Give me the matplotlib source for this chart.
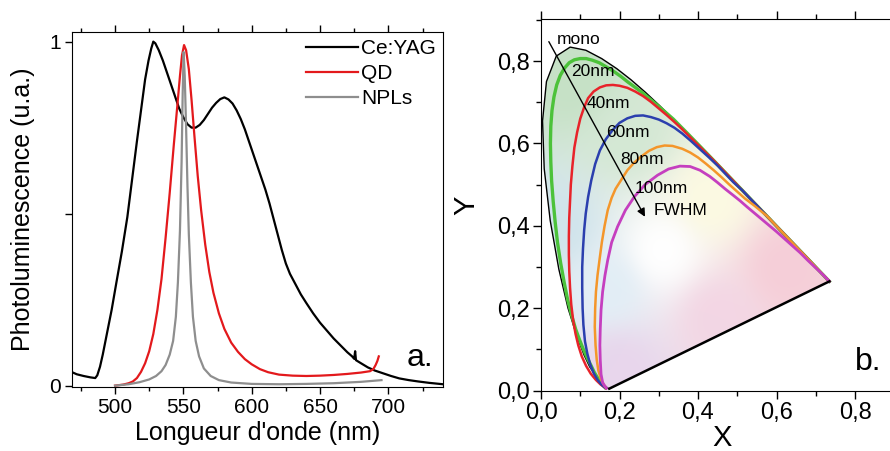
import numpy as np
import matplotlib
matplotlib.use("Agg")
import matplotlib.pyplot as plt
from matplotlib.patches import Polygon
from matplotlib.ticker import MultipleLocator

plt.rcParams['font.family'] = ['Liberation Sans', 'DejaVu Sans']

# -----------------------------
# (a) spectres de photoluminescence
# -----------------------------
cey_nm = [468, 472, 477, 482, 485.5, 487, 489, 491, 494, 497.5, 501, 505, 509, 512.5, 516,
          519, 522, 524.5, 526.5, 528, 529.5, 532, 535, 538, 541, 544, 547, 550, 553, 556,
          559, 562, 565, 568, 571, 574, 577, 580, 583, 586, 589, 592, 595, 598, 601, 604,
          607, 610, 613, 616, 619, 622, 625, 628, 632, 636, 640, 645, 650, 655, 660, 665,
          670, 673.5, 675, 675.7, 676.3, 680, 685, 690, 696, 702, 708, 715, 722, 730, 740]
cey_int = [0.04, 0.033, 0.028, 0.024, 0.022, 0.03, 0.055, 0.09, 0.15, 0.22, 0.30, 0.39,
           0.49, 0.60, 0.71, 0.80, 0.89, 0.945, 0.98, 1.0, 0.995, 0.975, 0.945, 0.91, 0.875,
           0.84, 0.805, 0.78, 0.76, 0.75, 0.75, 0.758, 0.772, 0.79, 0.808, 0.822, 0.833,
           0.838, 0.832, 0.82, 0.80, 0.775, 0.745, 0.71, 0.675, 0.64, 0.605, 0.57, 0.53,
           0.485, 0.44, 0.395, 0.355, 0.325, 0.295, 0.265, 0.24, 0.21, 0.183, 0.16, 0.137,
           0.117, 0.097, 0.085, 0.078, 0.10, 0.074, 0.065, 0.053, 0.044, 0.036, 0.028,
           0.021, 0.016, 0.012, 0.008, 0.004]

qd_nm = [500, 506, 510, 513, 516, 519, 522, 525, 528, 531, 534, 537, 540, 543, 545.5, 547.5,
         549, 550.5, 552, 554, 556, 558, 560.5, 563, 566, 569, 572, 576, 580, 585, 590, 595,
         600, 606, 612, 620, 630, 640, 650, 660, 670, 680, 686.6, 689, 690.7, 692, 693]
qd_int = [0.0, 0.003, 0.007, 0.012, 0.022, 0.04, 0.065, 0.10, 0.15, 0.22, 0.31, 0.43, 0.56,
          0.70, 0.81, 0.90, 0.96, 0.99, 0.975, 0.92, 0.83, 0.73, 0.61, 0.51, 0.41, 0.33,
          0.27, 0.21, 0.165, 0.125, 0.098, 0.077, 0.062, 0.048, 0.039, 0.032, 0.029, 0.028,
          0.029, 0.031, 0.034, 0.038, 0.042, 0.048, 0.06, 0.072, 0.085]

npl_nm = [500, 510, 518, 525, 530, 534, 537, 540, 542.5, 544.5, 546, 547.5, 548.7, 549.5,
          550.2, 551, 552, 553, 554, 555.5, 557, 559, 561.5, 565, 570, 576, 585, 600, 620,
          640, 660, 680, 695]
npl_int = [0.0, 0.004, 0.01, 0.018, 0.028, 0.042, 0.06, 0.09, 0.13, 0.20, 0.30, 0.45, 0.65,
           0.85, 0.97, 0.90, 0.75, 0.58, 0.44, 0.30, 0.20, 0.13, 0.085, 0.05, 0.028, 0.016,
           0.009, 0.005, 0.004, 0.005, 0.007, 0.011, 0.016]

# -----------------------------
# (b) diagramme CIE (x, y)
# -----------------------------
mono_x = [0.1741, 0.1714, 0.1644, 0.1566, 0.1440, 0.1241, 0.1096, 0.0913, 0.0687, 0.0454,
          0.0235, 0.0082, 0.0039, 0.0139, 0.0389, 0.0743, 0.1142, 0.1547, 0.1929, 0.2296,
          0.2658, 0.3016, 0.3373, 0.3731, 0.4087, 0.4441, 0.4788, 0.5125, 0.5448, 0.5752,
          0.6029, 0.6270, 0.6658, 0.6915, 0.7079, 0.7190, 0.7260, 0.7300, 0.7334, 0.7347]
mono_y = [0.0050, 0.0051, 0.0109, 0.0177, 0.0297, 0.0578, 0.0868, 0.1327, 0.2007, 0.2950,
          0.4127, 0.5384, 0.6548, 0.7502, 0.8120, 0.8338, 0.8262, 0.8059, 0.7816, 0.7543,
          0.7243, 0.6923, 0.6589, 0.6245, 0.5896, 0.5547, 0.5202, 0.4866, 0.4544, 0.4242,
          0.3965, 0.3725, 0.3340, 0.3083, 0.2920, 0.2809, 0.2740, 0.2700, 0.2666, 0.2653]

fw20_x = [0.163, 0.154, 0.145, 0.136, 0.128, 0.118, 0.108, 0.098, 0.088, 0.078, 0.068, 0.059,
          0.05, 0.042, 0.036, 0.031, 0.027, 0.025, 0.024, 0.025, 0.028, 0.033, 0.04, 0.049,
          0.06, 0.072, 0.085, 0.1, 0.115, 0.131, 0.148, 0.166, 0.185, 0.203, 0.22, 0.24, 0.26,
          0.28, 0.30, 0.3373, 0.3731, 0.4087, 0.4441, 0.4788, 0.5125, 0.5448, 0.5752, 0.6029,
          0.627, 0.6658, 0.6915, 0.7079, 0.719, 0.7347]
fw20_y = [0.008, 0.018, 0.03, 0.044, 0.06, 0.079, 0.10, 0.124, 0.15, 0.183, 0.22, 0.263,
          0.31, 0.36, 0.41, 0.46, 0.51, 0.555, 0.60, 0.642, 0.68, 0.713, 0.742, 0.765, 0.783,
          0.796, 0.803, 0.806, 0.806, 0.802, 0.796, 0.786, 0.775, 0.763, 0.75, 0.736, 0.722,
          0.706, 0.69, 0.6589, 0.6245, 0.5896, 0.5547, 0.5202, 0.4866, 0.4544, 0.4242,
          0.3965, 0.3725, 0.334, 0.3083, 0.292, 0.2809, 0.2653]

fw40_x = [0.165, 0.152, 0.14, 0.127, 0.115, 0.104, 0.095, 0.088, 0.082, 0.077, 0.074, 0.072,
          0.071, 0.071, 0.072, 0.074, 0.076, 0.08, 0.085, 0.092, 0.10, 0.11, 0.12, 0.134,
          0.15, 0.166, 0.183, 0.2, 0.22, 0.24, 0.26, 0.28, 0.30, 0.32, 0.34, 0.358, 0.375,
          0.392, 0.41, 0.427, 0.4441, 0.4788, 0.5125, 0.5448, 0.5752, 0.6029, 0.627, 0.6658,
          0.6915, 0.7079, 0.719, 0.7347]
fw40_y = [0.006, 0.015, 0.026, 0.041, 0.06, 0.083, 0.11, 0.138, 0.17, 0.21, 0.25, 0.29,
          0.33, 0.375, 0.42, 0.46, 0.50, 0.545, 0.59, 0.627, 0.66, 0.688, 0.71, 0.726, 0.736,
          0.741, 0.742, 0.74, 0.735, 0.726, 0.715, 0.701, 0.685, 0.669, 0.652, 0.636, 0.62,
          0.604, 0.587, 0.571, 0.5547, 0.5202, 0.4866, 0.4544, 0.4242, 0.3965, 0.3725,
          0.334, 0.3083, 0.292, 0.2809, 0.2653]

fw60_x = [0.165, 0.155, 0.145, 0.134, 0.125, 0.118, 0.112, 0.108, 0.106, 0.105, 0.105,
          0.107, 0.11, 0.114, 0.12, 0.128, 0.138, 0.15, 0.165, 0.182, 0.20, 0.22, 0.24, 0.26,
          0.28, 0.30, 0.32, 0.34, 0.36, 0.382, 0.405, 0.428, 0.45, 0.47, 0.49, 0.5125, 0.5448,
          0.5752, 0.6029, 0.627, 0.6658, 0.6915, 0.7079, 0.719, 0.7347]
fw60_y = [0.006, 0.014, 0.025, 0.043, 0.065, 0.09, 0.12, 0.16, 0.20, 0.25, 0.30, 0.345,
          0.39, 0.43, 0.47, 0.51, 0.55, 0.583, 0.61, 0.632, 0.65, 0.661, 0.667, 0.668, 0.664,
          0.658, 0.649, 0.638, 0.624, 0.606, 0.586, 0.566, 0.546, 0.526, 0.506, 0.4866,
          0.4544, 0.4242, 0.3965, 0.3725, 0.334, 0.3083, 0.292, 0.2809, 0.2653]

fw80_x = [0.166, 0.159, 0.152, 0.146, 0.142, 0.139, 0.137, 0.138, 0.14, 0.144, 0.149, 0.155,
          0.162, 0.17, 0.18, 0.19, 0.204, 0.22, 0.237, 0.255, 0.275, 0.295, 0.315, 0.335,
          0.36, 0.38, 0.40, 0.42, 0.44, 0.46, 0.48, 0.50, 0.52, 0.545, 0.5752, 0.6029, 0.627,
          0.6658, 0.6915, 0.7079, 0.719, 0.7347]
fw80_y = [0.006, 0.016, 0.03, 0.05, 0.075, 0.11, 0.155, 0.20, 0.24, 0.28, 0.317, 0.36, 0.40,
          0.438, 0.468, 0.49, 0.511, 0.535, 0.553, 0.568, 0.582, 0.591, 0.595, 0.594, 0.587,
          0.578, 0.566, 0.551, 0.535, 0.518, 0.50, 0.483, 0.466, 0.448, 0.4242, 0.3965,
          0.3725, 0.334, 0.3083, 0.292, 0.2809, 0.2653]

fw100_x = [0.167, 0.162, 0.157, 0.153, 0.151, 0.15, 0.151, 0.153, 0.157, 0.163, 0.17, 0.18,
           0.195, 0.215, 0.238, 0.265, 0.297, 0.325, 0.354, 0.38, 0.405, 0.43, 0.45, 0.47,
           0.49, 0.507, 0.525, 0.54, 0.56, 0.575, 0.60, 0.62, 0.64, 0.66, 0.68, 0.70, 0.72,
           0.7347]
fw100_y = [0.006, 0.012, 0.02, 0.04, 0.075, 0.11, 0.15, 0.196, 0.24, 0.28, 0.317, 0.36,
           0.398, 0.438, 0.471, 0.50, 0.523, 0.538, 0.545, 0.544, 0.535, 0.52, 0.505, 0.489,
           0.474, 0.461, 0.446, 0.434, 0.418, 0.406, 0.386, 0.369, 0.352, 0.335, 0.316,
           0.298, 0.28, 0.2653]

fwhm_labels = ["mono", "20nm", "40nm", "60nm", "80nm", "100nm", "FWHM"]
fwhm_lab_x = [0.04, 0.076, 0.116, 0.167, 0.201, 0.238, 0.286]
fwhm_lab_y = [0.853, 0.774, 0.696, 0.626, 0.56, 0.491, 0.438]

cie_ticks = [0.0, 0.2, 0.4, 0.6, 0.8]
cie_ticklabels = ["0,0", "0,2", "0,4", "0,6", "0,8"]

# -----------------------------
# Figure
# -----------------------------
fig = plt.figure(figsize=(8.9, 4.51), dpi=100)

# ---- panneau a ----
ax1 = fig.add_axes([72 / 890, 1 - 387 / 451, (443 - 72) / 890, (387 - 32) / 451])
ax1.plot(cey_nm, cey_int, color="black", lw=1.6, label="Ce:YAG")
ax1.plot(qd_nm, qd_int, color="#e3191c", lw=1.6, label="QD")
ax1.plot(npl_nm, npl_int, color="#8e8e8e", lw=1.6, label="NPLs")
ax1.set_xlim(468.5, 740)
ax1.set_ylim(-0.004, 1.028)
ax1.set_xticks([500, 550, 600, 650, 700])
ax1.xaxis.set_minor_locator(MultipleLocator(25))
ax1.set_yticks([0, 0.5, 1])
ax1.set_yticklabels(["0", "", "1"])
ax1.tick_params(which="both", direction="out", top=True, right=False, labelsize=15, width=1,
                pad=3)
ax1.tick_params(which="major", length=5)
ax1.tick_params(which="minor", length=3)
ax1.set_xlabel("Longueur d'onde (nm)", fontsize=18, labelpad=3)
ax1.set_ylabel("Photoluminescence (u.a.)", fontsize=18, labelpad=10)
ax1.legend(loc="upper right", frameon=False, fontsize=15, handlelength=2.5,
           handletextpad=0.15, labelspacing=0.28, borderaxespad=0.15, borderpad=0.2)
ax1.text(713.5, 0.058, "a.", fontsize=23, ha="left", va="baseline")

# ---- panneau b ----
x_max = 0.92
ax2 = fig.add_axes([541 / 890, 1 - 390.7 / 451, x_max * 392.5 / 890, (390.7 - 19) / 451])
ax2.set_xlim(0, x_max)
ax2.set_ylim(0, 0.902)

# fond coloré dans le diagramme
gx, gy = np.meshgrid(np.linspace(0, 0.75, 300), np.linspace(0, 0.85, 300))
anchors = [(0.08, 0.75, (198, 225, 198)), (0.22, 0.62, (212, 232, 212)),
           (0.04, 0.40, (208, 228, 236)), (0.17, 0.25, (226, 238, 246)),
           (0.31, 0.34, (255, 255, 255)), (0.43, 0.46, (252, 250, 226)),
           (0.62, 0.30, (246, 206, 216)), (0.45, 0.18, (243, 214, 228)),
           (0.20, 0.05, (232, 214, 236))]
wsum = np.zeros_like(gx)
rgb = np.zeros(gx.shape + (3,))
for ax_, ay_, col in anchors:
    w = 1.0 / ((gx - ax_) ** 2 + (gy - ay_) ** 2 + 1e-3) ** 1.5
    wsum += w
    rgb += w[..., None] * np.array(col) / 255.0
rgb /= wsum[..., None]
im = ax2.imshow(rgb, extent=[0, 0.75, 0, 0.85], origin="lower", aspect="auto",
                interpolation="bilinear", zorder=0)
clip = Polygon(np.column_stack([mono_x, mono_y]), closed=True, transform=ax2.transData)
im.set_clip_path(clip)

ax2.plot(mono_x, mono_y, color="black", lw=1.0, zorder=2)
ax2.plot(fw20_x, fw20_y, color="#4cc23a", lw=2.4, zorder=3)
ax2.plot(fw40_x, fw40_y, color="#e8232a", lw=1.8, zorder=3)
ax2.plot(fw60_x, fw60_y, color="#2b3fae", lw=1.8, zorder=3)
ax2.plot(fw80_x, fw80_y, color="#f4962a", lw=1.8, zorder=3)
ax2.plot(fw100_x, fw100_y, color="#c53fbf", lw=2.0, zorder=4)
ax2.plot([mono_x[-1], mono_x[0]], [mono_y[-1], mono_y[0]], color="black", lw=1.8, zorder=5)

ax2.annotate("", xy=(0.265, 0.422), xytext=(0.020, 0.847),
             arrowprops=dict(arrowstyle="-|>", color="black", lw=1.0,
                             mutation_scale=12, shrinkA=0, shrinkB=0), zorder=6)
for lab, lx, ly in zip(fwhm_labels, fwhm_lab_x, fwhm_lab_y):
    ax2.text(lx, ly, lab, fontsize=12.5, ha="left", va="center", zorder=7)

ax2.set_xticks(cie_ticks)
ax2.set_xticklabels(cie_ticklabels)
ax2.set_yticks(cie_ticks)
ax2.set_yticklabels(cie_ticklabels)
ax2.xaxis.set_minor_locator(MultipleLocator(0.1))
ax2.yaxis.set_minor_locator(MultipleLocator(0.1))
ax2.tick_params(which="both", direction="out", top=True, right=False, labelsize=17, width=1,
                pad=2)
ax2.tick_params(which="major", length=6)
ax2.tick_params(which="minor", length=3.5)
ax2.set_xlabel("X", fontsize=21, labelpad=0)
ax2.set_ylabel("Y", fontsize=21, labelpad=12)
ax2.text(0.80, 0.05, "b.", fontsize=23, ha="left", va="baseline")

fig.savefig("out.png", dpi=100)
